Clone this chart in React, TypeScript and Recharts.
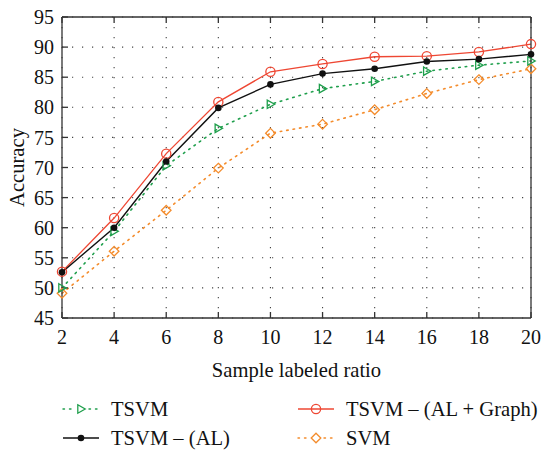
import React from "react";
import {
  LineChart,
  Line,
  XAxis,
  YAxis,
  CartesianGrid,
  Legend,
} from "recharts";

const ratios = [2, 4, 6, 8, 10, 12, 14, 16, 18, 20];
const tsvm = [50.0, 59.4, 70.3, 76.5, 80.5, 83.1, 84.3, 86.0, 87.0, 87.7];
const tsvmAL = [52.6, 60.0, 71.0, 79.9, 83.8, 85.6, 86.4, 87.6, 88.0, 88.8];
const tsvmALGraph = [52.7, 61.6, 72.3, 80.9, 85.9, 87.2, 88.4, 88.5, 89.2, 90.5];
const svm = [49.1, 56.1, 62.9, 69.9, 75.7, 77.2, 79.6, 82.3, 84.6, 86.4];

const xTicks = [2, 4, 6, 8, 10, 12, 14, 16, 18, 20];
const yTicks = [45, 50, 55, 60, 65, 70, 75, 80, 85, 90, 95];

const data = ratios.map((r, i) => ({
  ratio: r,
  tsvm: tsvm[i],
  tsvmAL: tsvmAL[i],
  tsvmALGraph: tsvmALGraph[i],
  svm: svm[i],
}));

const FONT = "'Liberation Serif', 'DejaVu Serif', serif";
const RED = "#ee4733";
const GREEN = "#1f9f4c";
const ORANGE = "#f48c2c";
const BLACK = "#111";
const AXIS = "#333";

const Circle = ({ cx, cy }: any) => (
  <circle cx={cx} cy={cy} r={4.6} fill="none" stroke={RED} strokeWidth={1.3} />
);
const Dot = ({ cx, cy }: any) => <circle cx={cx} cy={cy} r={3.3} fill={BLACK} />;
const Tri = ({ cx, cy }: any) => (
  <path
    d={`M${cx - 3.2},${cy - 4.2} L${cx + 4.2},${cy} L${cx - 3.2},${cy + 4.2} Z`}
    fill="none"
    stroke={GREEN}
    strokeWidth={1.3}
  />
);
const Diamond = ({ cx, cy }: any) => (
  <path
    d={`M${cx},${cy - 4.8} L${cx + 4.8},${cy} L${cx},${cy + 4.8} L${cx - 4.8},${cy} Z`}
    fill="none"
    stroke={ORANGE}
    strokeWidth={1.3}
  />
);

const legendItems = [
  { name: "TSVM", color: GREEN, dash: "1.5 5", Marker: Tri, left: 62, top: 29 },
  { name: "TSVM – (AL + Graph)", color: RED, dash: undefined, Marker: Circle, left: 297, top: 29 },
  { name: "TSVM – (AL)", color: BLACK, dash: undefined, Marker: Dot, left: 62, top: 58 },
  { name: "SVM", color: ORANGE, dash: "1.5 5", Marker: Diamond, left: 297, top: 58 },
];

function LegendBox() {
  return (
    <div style={{ position: "relative", width: 544, height: 70, fontFamily: FONT }}>
      {legendItems.map((it) => (
        <div
          key={it.name}
          style={{ position: "absolute", left: it.left, top: it.top - 12, height: 24, display: "flex", alignItems: "center" }}
        >
          <svg width={38} height={24}>
            <line
              x1={1}
              x2={37}
              y1={12}
              y2={12}
              stroke={it.color}
              strokeWidth={1.4}
              strokeDasharray={it.dash}
              strokeLinecap={it.dash ? "round" : "butt"}
            />
            {it.dash && <line x1={12} x2={26} y1={12} y2={12} stroke="#fff" strokeWidth={3} />}
            <it.Marker cx={19} cy={12} />
          </svg>
          <span style={{ marginLeft: 11, fontSize: 20.6, color: "#111", whiteSpace: "nowrap" }}>{it.name}</span>
        </div>
      ))}
    </div>
  );
}

const tickStyle = { fontFamily: FONT, fontSize: 20, fill: "#111" };

export default function App() {
  return (
    <div style={{ position: "absolute", left: 0, top: 0, background: "#fff" }}>
      <LineChart
        width={544}
        height={450}
        data={data}
        margin={{ top: 16, right: 12, bottom: 0, left: 0 }}
      >
        <CartesianGrid
          stroke="#444"
          strokeDasharray="1.2 8.8"
          strokeWidth={1.1}
        />
        <XAxis
          dataKey="ratio"
          type="number"
          domain={[2, 20]}
          ticks={xTicks}
          height={62}
          tickSize={-6}
          tickMargin={18}
          tick={tickStyle}
          stroke={AXIS}
          strokeWidth={1.3}
          interval={0}
          label={{
            value: "Sample labeled ratio",
            position: "insideBottom",
            offset: 3,
            style: { fontFamily: FONT, fontSize: 20.6, fill: "#111" },
          }}
        />
        <XAxis
          xAxisId="top"
          orientation="top"
          dataKey="ratio"
          type="number"
          domain={[2, 20]}
          ticks={xTicks}
          height={1}
          tickSize={-6}
          tickFormatter={() => ""}
          stroke={AXIS}
          strokeWidth={1.3}
          interval={0}
        />
        <YAxis
          type="number"
          domain={[45, 95]}
          ticks={yTicks}
          width={62}
          tickSize={-6}
          tickMargin={14}
          tick={tickStyle}
          stroke={AXIS}
          strokeWidth={1.3}
          interval={0}
          label={{
            value: "Accuracy",
            angle: -90,
            position: "insideLeft",
            offset: 17,
            style: { fontFamily: FONT, fontSize: 20.6, fill: "#111", textAnchor: "middle" },
          }}
        />
        <YAxis
          yAxisId="right"
          orientation="right"
          type="number"
          domain={[45, 95]}
          ticks={yTicks}
          width={1}
          tickSize={-6}
          tickFormatter={() => ""}
          stroke={AXIS}
          strokeWidth={1.3}
          interval={0}
        />
        <Legend
          verticalAlign="bottom"
          align="left"
          width={544}
          wrapperStyle={{ left: 0 }}
          content={() => <LegendBox />}
        />
        <Line
          dataKey="svm"
          stroke={ORANGE}
          strokeWidth={1.6}
          strokeDasharray="1.5 5"
          strokeLinecap="round"
          dot={(p: any) => <Diamond key={p.key} cx={p.cx} cy={p.cy} />}
          isAnimationActive={false}
        />
        <Line
          dataKey="tsvm"
          stroke={GREEN}
          strokeWidth={1.6}
          strokeDasharray="1.5 5"
          strokeLinecap="round"
          dot={(p: any) => <Tri key={p.key} cx={p.cx} cy={p.cy} />}
          isAnimationActive={false}
        />
        <Line
          dataKey="tsvmALGraph"
          stroke={RED}
          strokeWidth={1.3}
          dot={(p: any) => <Circle key={p.key} cx={p.cx} cy={p.cy} />}
          isAnimationActive={false}
        />
        <Line
          dataKey="tsvmAL"
          stroke={BLACK}
          strokeWidth={1.4}
          dot={(p: any) => <Dot key={p.key} cx={p.cx} cy={p.cy} />}
          isAnimationActive={false}
        />
      </LineChart>
    </div>
  );
}
